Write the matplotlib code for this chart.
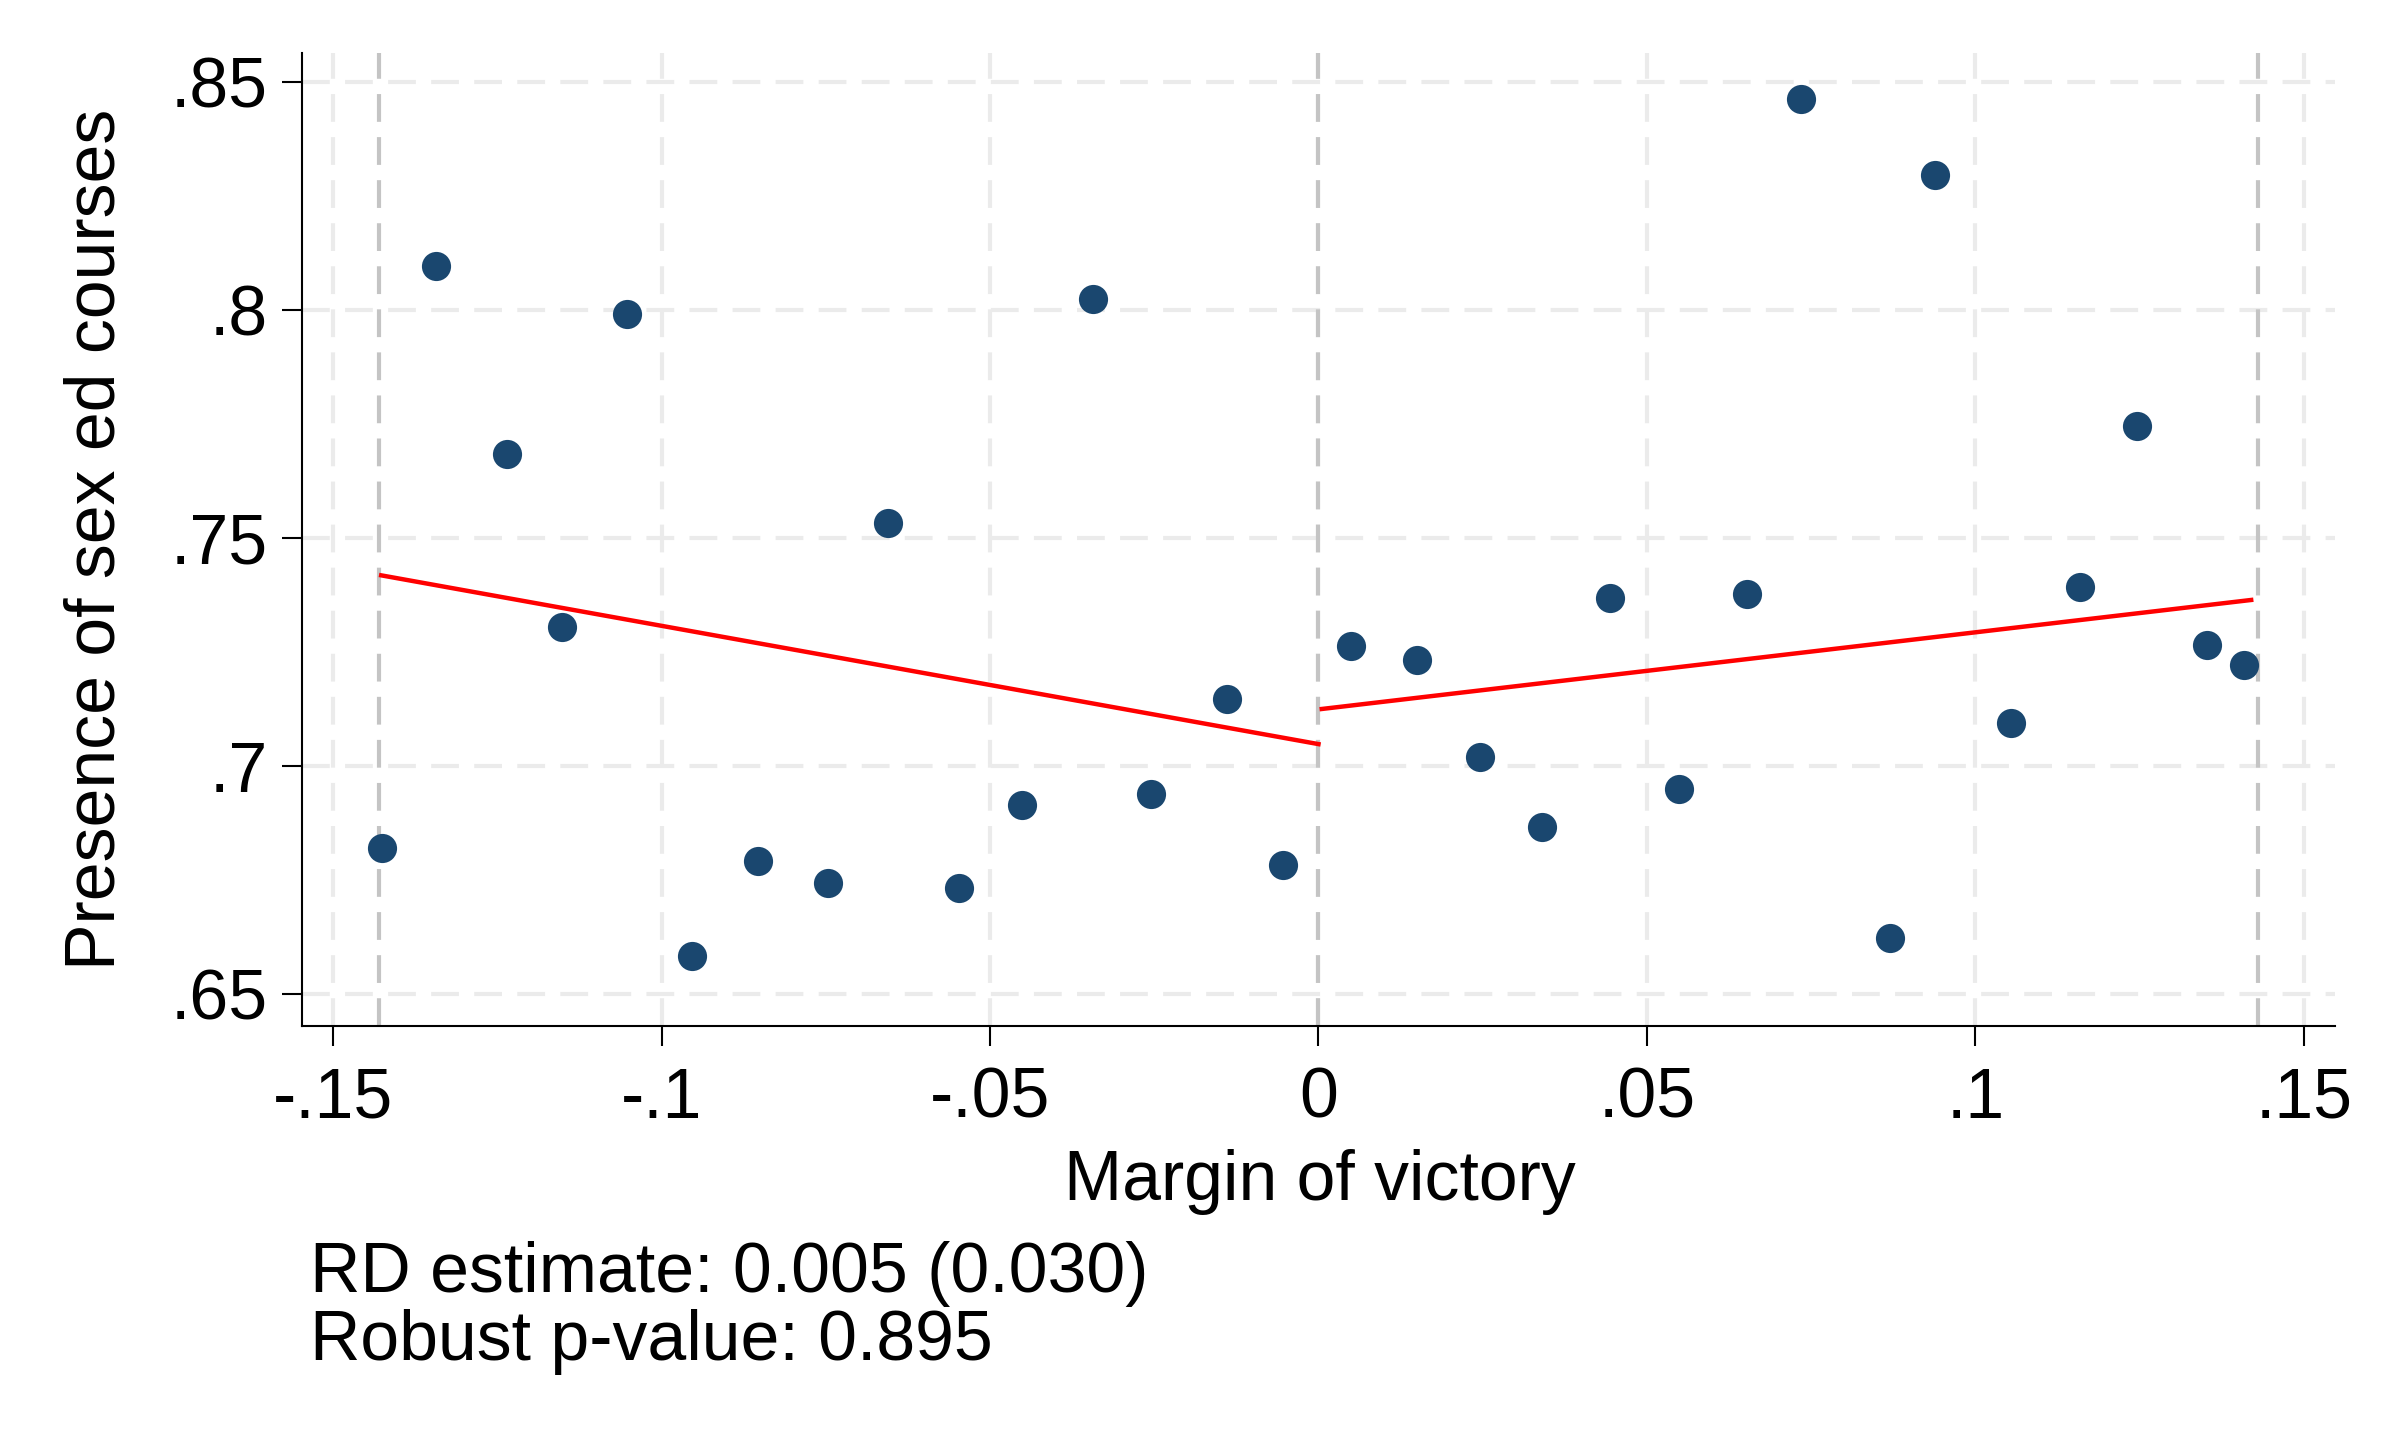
import matplotlib
matplotlib.use("Agg")
import matplotlib.pyplot as plt

plt.rcParams["font.family"] = ["Liberation Sans", "DejaVu Sans"]
plt.rcParams["lines.scale_dashes"] = False

# binned means (margin of victory, share with sex ed courses)
bin_x = [-0.1426, -0.1343, -0.1235, -0.1151, -0.1052, -0.0954, -0.0853, -0.0746,
         -0.0655, -0.0548, -0.0452, -0.0343, -0.0255, -0.0140, -0.0054,
         0.0050, 0.0150, 0.0246, 0.0341, 0.0444, 0.0549, 0.0653, 0.0735,
         0.0870, 0.0939, 0.1054, 0.1159, 0.1246, 0.1353, 0.1409]
bin_y = [0.6821, 0.8097, 0.7684, 0.7304, 0.7992, 0.6584, 0.6792, 0.6744,
         0.7532, 0.6733, 0.6915, 0.8023, 0.6939, 0.7146, 0.6782,
         0.7264, 0.7232, 0.7019, 0.6867, 0.7369, 0.6950, 0.7378, 0.8463,
         0.6622, 0.8295, 0.7095, 0.7393, 0.7746, 0.7266, 0.7222]

# linear fits each side of the cutoff
fit_left_x = [-0.1427, 0.0]
fit_left_y = [0.7418, 0.7048]
fit_right_x = [0.0005, 0.1420]
fit_right_y = [0.7125, 0.7364]

ref_x = [-0.143, 0.0, 0.143]

xticks = [-0.15, -0.1, -0.05, 0.0, 0.05, 0.1, 0.15]
xtick_labels = ["-.15", "-.1", "-.05", "0", ".05", ".1", ".15"]
yticks = [0.65, 0.70, 0.75, 0.80, 0.85]
ytick_labels = [".65", ".7", ".75", ".8", ".85"]

rd_text = "RD estimate: 0.005 (0.030)"
p_text = "Robust p-value: 0.895"

W, H = 2386, 1432
FS = 50.2
NAVY = "#1a476f"
DASH = (0, (20, 11))

fig = plt.figure(figsize=(W / 100, H / 100), dpi=100)
ax = fig.add_axes([301.7 / W, 1 - 1026 / H, (2334.6 - 301.7) / W, (1026 - 52.6) / H])

ax.set_xlim(-0.1548, 0.1547)
ax.set_ylim(0.6430, 0.8564)

ax.set_xticks(xticks)
ax.set_xticklabels(xtick_labels)
ax.set_yticks(yticks)
ax.set_yticklabels(ytick_labels)
ax.tick_params(axis="both", labelsize=FS, length=14.4, width=1.5, color="black")
ax.tick_params(axis="x", pad=15)
ax.tick_params(axis="y", pad=10)

for s in ["top", "right"]:
    ax.spines[s].set_visible(False)
for s in ["left", "bottom"]:
    ax.spines[s].set_linewidth(1.5)

ax.grid(True, color="#ebebeb", lw=3.0, linestyle=DASH, zorder=0)
ax.set_axisbelow(True)

for rx in ref_x:
    ax.axvline(rx, color="#c4c4c4", lw=3.0, linestyle=DASH, zorder=1)

ax.plot(bin_x, bin_y, "o", ms=21, mew=0, color=NAVY, zorder=3)
ax.plot(fit_left_x, fit_left_y, "-", color="#ff0000", lw=3.2, zorder=4)
ax.plot(fit_right_x, fit_right_y, "-", color="#ff0000", lw=3.2, zorder=4)

fig.text(1320 / W, 1 - 1200 / H, "Margin of victory", fontsize=FS,
         ha="center", va="baseline")
fig.text(97 / W, 1 - 539.5 / H, "Presence of sex ed courses", fontsize=FS,
         rotation=90, ha="center", va="center")
fig.text(310 / W, 1 - 1291.7 / H, rd_text, fontsize=FS, ha="left", va="baseline")
fig.text(310 / W, 1 - 1360 / H, p_text, fontsize=FS, ha="left", va="baseline")

fig.savefig("out.png", dpi=100, facecolor="white")
